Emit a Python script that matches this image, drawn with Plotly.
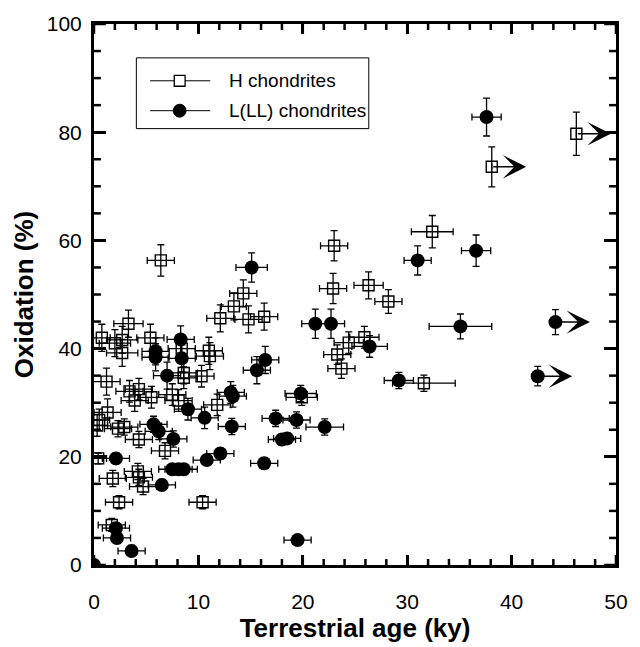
import plotly.graph_objects as go

# ---------------- data ----------------
# H chondrites: terrestrial age (ky), oxidation (%), errors; limit = lower limit on age (arrow)
h_age = [6.4, 14.3, 13.4, 12.1, 14.8, 16.3, 3.3, 0.75, 2.0, 2.7, 2.7, 5.4, 8.4, 11.0, 11.1,
         23.0, 32.4, 22.9, 26.3, 28.2, 24.4, 25.9, 23.3, 23.7, 31.6, 19.9, 38.1, 46.2,
         8.6, 8.6, 10.3, 1.2, 3.4, 4.3, 3.9, 5.5, 7.5, 8.1, 11.8, 1.3, 0.5, 0.3, 2.3, 2.9,
         4.3, 6.8, 0.4, 4.2, 4.3, 1.8, 4.7, 2.4, 10.4, 1.7]
h_ox = [56.3, 50.2, 47.8, 45.6, 45.4, 45.9, 44.6, 42.0, 41.0, 41.6, 39.2, 42.0, 40.0, 39.6, 38.6,
        59.0, 61.6, 51.1, 51.7, 48.7, 41.1, 42.1, 38.9, 36.3, 33.6, 31.0, 73.6, 79.7,
        35.5, 34.6, 34.9, 33.9, 32.1, 32.5, 30.4, 31.0, 31.5, 30.4, 29.6, 28.2, 26.8, 25.8, 25.2, 25.5,
        23.2, 21.1, 19.7, 17.3, 16.2, 16.0, 14.5, 11.6, 11.6, 7.4]
h_age_err = [1.3, 1.3, 1.2, 1.3, 1.3, 1.3, 1.4, 0.8, 1.5, 1.5, 1.5, 1.3, 1.3, 1.3, 1.3,
             1.3, 2.0, 1.3, 1.4, 1.3, 1.4, 1.4, 1.3, 1.3, 3.0, 1.5, None, None,
             1.3, 1.3, 1.2, 1.3, 1.3, 1.3, 1.3, 1.3, 1.3, 1.3, 1.3, 1.3, 1.0, 1.0, 1.3, 1.3,
             1.3, 1.3, 0.8, 1.3, 1.3, 1.3, 1.3, 1.3, 1.3, 1.3]
h_ox_err = [2.9, 2.5, 2.5, 2.5, 2.5, 2.5, 2.5, 2.5, 2.5, 2.5, 2.5, 2.5, 2.5, 2.5, 2.5,
            2.8, 3.0, 2.8, 2.5, 2.2, 2.0, 2.0, 1.8, 1.8, 1.5, 1.5, 3.7, 4.0,
            2.0, 2.0, 2.0, 2.5, 2.0, 2.0, 2.0, 2.0, 2.0, 2.0, 2.0, 2.5, 2.0, 2.0, 1.5, 1.5,
            1.5, 1.5, 1.0, 1.5, 1.5, 1.5, 1.5, 1.2, 1.2, 1.2]
h_limit = [False] * 26 + [True, True] + [False] * 26

# L(LL) chondrites
l_age = [0.0, 15.1, 37.6, 31.0, 36.6, 21.2, 22.7, 26.4, 35.1, 44.2, 42.5, 29.2, 19.8, 17.4,
         19.4, 22.1, 18.0, 18.5, 19.5, 8.3, 5.9, 5.9, 8.4, 16.4, 15.6, 7.0, 13.1, 13.3, 9.0,
         10.6, 13.2, 5.7, 6.2, 7.6, 2.1, 10.8, 12.1, 16.3, 7.5, 8.1, 8.6, 6.5, 2.1, 2.2, 3.6]
l_ox = [0.0, 55.0, 82.8, 56.3, 58.1, 44.6, 44.6, 40.4, 44.1, 44.9, 34.9, 34.1, 31.7, 27.1,
        26.8, 25.5, 23.2, 23.4, 4.6, 41.7, 39.5, 38.4, 38.2, 37.9, 36.0, 35.0, 31.9, 31.2, 28.8,
        27.2, 25.6, 26.0, 24.7, 23.3, 19.7, 19.4, 20.6, 18.8, 17.7, 17.7, 17.7, 14.8, 6.8, 5.0, 2.6]
l_age_err = [None, 1.5, 1.4, 1.3, 1.4, 1.3, 1.3, 1.7, 3.0, None, None, 1.4, 1.5, 1.3,
             1.3, 1.8, 1.3, 1.3, 1.3, 1.3, 1.3, 1.3, 1.3, 1.3, 1.3, 1.3, 1.3, 1.3, 1.3,
             1.3, 1.3, 1.3, 1.3, 1.3, 1.3, 1.3, 1.3, 1.3, 1.3, 1.3, 1.3, 1.3, 1.3, 1.3, 1.3]
l_ox_err = [None, 2.7, 3.5, 2.7, 2.9, 2.7, 2.7, 2.0, 2.3, 2.3, 1.8, 1.5, 1.5, 1.5,
            1.5, 1.5, 1.0, 1.0, 0.8, 2.5, 2.5, 2.5, 2.5, 2.5, 2.5, 2.5, 2.0, 2.0, 2.0,
            2.0, 1.5, 1.5, 1.5, 1.5, 1.0, 1.0, 1.0, 1.0, 1.0, 1.0, 1.0, 1.0, 1.0, 1.0, 1.0]
l_limit = [False] * 9 + [True, True] + [False] * 34

series_names = ["H chondrites", "L(LL) chondrites"]
x_ticks = [0, 10, 20, 30, 40, 50]
y_ticks = [0, 20, 40, 60, 80, 100]
x_range = [0, 50]
y_range = [0, 100]
x_minor_step = 2
y_minor_step = 5

# ---------------- figure ----------------
FONT = "Liberation Sans, Arial, sans-serif"
ARROW_LEN = 3.3
W, H = 640, 647
ML, MR, MT, MB = 94, 16, 23, 81
PW, PH = W - ML - MR, H - MT - MB


def px(xp):  # pixel x -> paper
    return (xp - ML) / PW


def py(yp):  # pixel y -> paper
    return (H - MB - yp) / PH


def err(arr):
    return dict(type="data", array=arr, visible=True, color="black", thickness=1.3, width=3.5)


fig = go.Figure()

fig.add_trace(go.Scatter(
    x=h_age, y=h_ox, mode="markers", showlegend=False, name=series_names[0],
    marker=dict(symbol="square-open", size=11, color="black", line=dict(width=1.4, color="black")),
    error_x=err(h_age_err), error_y=err(h_ox_err),
))
fig.add_trace(go.Scatter(
    x=l_age, y=l_ox, mode="markers", showlegend=False, name=series_names[1],
    marker=dict(symbol="circle", size=14, color="black"),
    error_x=err(l_age_err), error_y=err(l_ox_err),
))

# lower-limit arrows
annotations = []
for xs, ys, lim in ((h_age, h_ox, h_limit), (l_age, l_ox, l_limit)):
    for xv, yv, f in zip(xs, ys, lim):
        if f:
            annotations.append(dict(
                x=xv + ARROW_LEN, y=yv, ax=xv, ay=yv, xref="x", yref="y", axref="x", ayref="y",
                showarrow=True, arrowhead=3, arrowsize=2.6, arrowwidth=1.5, arrowcolor="black",
                standoff=0, text="",
            ))

shapes = []

# inward tick marks on all four sides (major + minor), placed at the axis tick values
def add_ticks(vals, axis, length_px, width):
    for v in vals:
        if axis == "x":
            L = length_px / PH
            for y0, y1 in ((0, L), (1, 1 - L)):
                shapes.append(dict(type="line", xref="x", yref="paper", x0=v, x1=v, y0=y0, y1=y1,
                                   line=dict(color="black", width=width), layer="above"))
        else:
            L = length_px / PW
            for x0, x1 in ((0, L), (1, 1 - L)):
                shapes.append(dict(type="line", xref="paper", yref="y", x0=x0, x1=x1, y0=v, y1=v,
                                   line=dict(color="black", width=width), layer="above"))


x_minor = [v for v in range(x_range[0], x_range[1] + 1, x_minor_step) if v not in x_ticks]
y_minor = [v for v in range(y_range[0], y_range[1] + 1, y_minor_step) if v not in y_ticks]
add_ticks(x_ticks, "x", 10, 2.5)
add_ticks(x_minor, "x", 6, 2.5)
add_ticks(y_ticks, "y", 12, 2.5)
add_ticks(y_minor, "y", 7, 2.5)

# legend (box, sample lines, symbols, labels)
shapes.append(dict(type="rect", xref="paper", yref="paper", x0=px(137), x1=px(373), y0=py(128), y1=py(57),
                   line=dict(color="black", width=1), fillcolor="white", layer="above"))
rows = [80, 110]
for i, (name, yr) in enumerate(zip(series_names, rows)):
    shapes.append(dict(type="line", xref="paper", yref="paper", x0=px(151), x1=px(212), y0=py(yr), y1=py(yr),
                       line=dict(color="black", width=1), layer="above"))
    if i == 0:
        shapes.append(dict(type="rect", xref="paper", yref="paper", x0=px(175.5), x1=px(186.5),
                           y0=py(yr + 5.5), y1=py(yr - 5.5), line=dict(color="black", width=1.3),
                           fillcolor="white", layer="above"))
    else:
        shapes.append(dict(type="circle", xref="paper", yref="paper", x0=px(174.5), x1=px(187.5),
                           y0=py(yr + 6.5), y1=py(yr - 6.5), line=dict(color="black", width=1),
                           fillcolor="black", layer="above"))
    annotations.append(dict(x=px(229), y=py(yr), xref="paper", yref="paper", text=name, showarrow=False,
                            xanchor="left", yanchor="middle", font=dict(family=FONT, size=19, color="black")))

tickfont = dict(family=FONT, size=21, color="black")
fig.update_layout(
    width=W, height=H,
    margin=dict(l=ML, r=MR, t=MT, b=MB),
    paper_bgcolor="white", plot_bgcolor="white",
    annotations=annotations, shapes=shapes, showlegend=False,
    xaxis=dict(
        range=x_range, tickvals=x_ticks, ticks="inside", ticklen=10, tickwidth=2.5, tickcolor="black",
        showline=True, linewidth=3, linecolor="black", mirror="allticks", showgrid=False,
        zerolinecolor="black",
        tickfont=tickfont, ticklabelstandoff=16,
        title=dict(text="<b>Terrestrial age (ky)</b>", font=dict(family=FONT, size=26, color="black"), standoff=4),
    ),
    yaxis=dict(
        range=y_range, tickvals=y_ticks, ticks="inside", ticklen=12, tickwidth=2.5, tickcolor="black",
        showline=True, linewidth=3, linecolor="black", mirror="allticks", showgrid=False,
        zerolinecolor="black",
        tickfont=tickfont, ticklabelstandoff=5,
        title=dict(text="<b>Oxidation (%)</b>", font=dict(family=FONT, size=26, color="black"), standoff=6),
    ),
)

fig.write_html("out.html")
